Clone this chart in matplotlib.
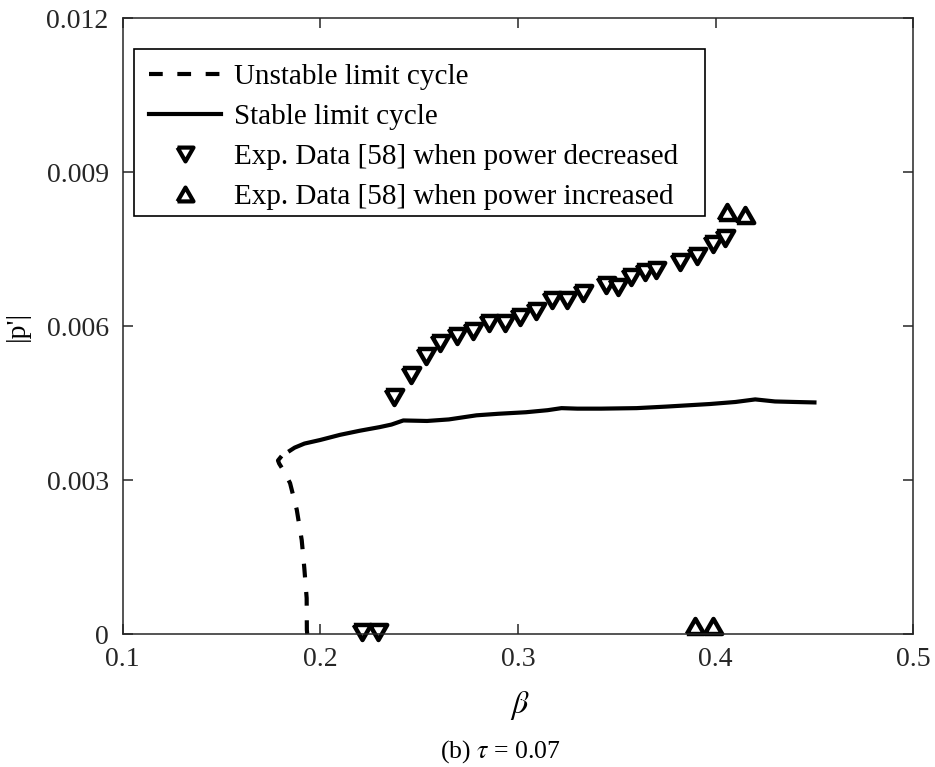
import matplotlib
matplotlib.use("Agg")
import matplotlib.pyplot as plt
from matplotlib.lines import Line2D
from matplotlib.patches import Rectangle

plt.rcParams['font.family'] = ['Liberation Serif', 'DejaVu Serif']
plt.rcParams['mathtext.fontset'] = 'stix'

# Unstable limit cycle branch (dashed)
unstable_beta = [0.1934, 0.1932, 0.1931, 0.1919, 0.1906, 0.1881, 0.1847, 0.1813, 0.1792, 0.1786, 0.1805, 0.1838]
unstable_amp = [0.0, 0.00008, 0.00070, 0.00129, 0.00183, 0.00242, 0.00294, 0.00319, 0.00332, 0.00338, 0.00347, 0.00355]

# Stable limit cycle branch (solid)
stable_beta = [0.1838, 0.187, 0.192, 0.200, 0.210, 0.220, 0.230, 0.236, 0.242, 0.254, 0.265, 0.279,
               0.290, 0.304, 0.315, 0.322, 0.330, 0.342, 0.360, 0.375, 0.397, 0.410, 0.420, 0.430, 0.440, 0.451]
stable_amp = [0.00355, 0.00363, 0.00371, 0.00378, 0.00388, 0.00396, 0.00403, 0.00408, 0.00416, 0.00415, 0.00418, 0.00426,
              0.00429, 0.00432, 0.00436, 0.00440, 0.00439, 0.00439, 0.00440, 0.00443, 0.00448, 0.00452, 0.00457, 0.00453, 0.00452, 0.00451]

# Experimental data, power decreased
dec_beta = [0.2212, 0.2293, 0.2375, 0.2459, 0.2535, 0.2606, 0.2692, 0.2772, 0.2853, 0.2934, 0.3010, 0.3091,
            0.3172, 0.3248, 0.3329, 0.3445, 0.3506, 0.3572, 0.3643, 0.3698, 0.3820, 0.3906, 0.3987, 0.4048]
dec_amp = [0.00003, 0.00003, 0.00462, 0.00505, 0.00542, 0.00567, 0.00581, 0.00590, 0.00606, 0.00606, 0.00618, 0.00629,
           0.00651, 0.00651, 0.00664, 0.00680, 0.00676, 0.00695, 0.00705, 0.00709, 0.00725, 0.00736, 0.00760, 0.00772]

# Experimental data, power increased
inc_beta = [0.3895, 0.3986, 0.4058, 0.4149]
inc_amp = [0.00015, 0.00015, 0.00823, 0.00816]

x_ticks = [0.1, 0.2, 0.3, 0.4, 0.5]
x_ticklabels = ['0.1', '0.2', '0.3', '0.4', '0.5']
y_ticks = [0, 0.003, 0.006, 0.009, 0.012]
y_ticklabels = ['0', '0.003', '0.006', '0.009', '0.012']

legend_labels = ['Unstable limit cycle', 'Stable limit cycle',
                 'Exp. Data [58] when power decreased', 'Exp. Data [58] when power increased']

down_tri = [(-1, 0.866), (1, 0.866), (0, -0.866), (-1, 0.866)]
up_tri = [(-1, -0.866), (1, -0.866), (0, 0.866), (-1, -0.866)]

W, H = 935, 767
fig = plt.figure(figsize=(W / 100, H / 100), dpi=100)
ax = fig.add_axes([122.6 / W, 1 - 634 / H, (913.4 - 122.6) / W, (634 - 18) / H])

ax.plot(unstable_beta, unstable_amp, color='black', lw=3, linestyle=(0, (3.3, 3.5)),
        dash_capstyle='butt', clip_on=False)
ax.plot(stable_beta, stable_amp, color='black', lw=3, solid_capstyle='butt', clip_on=False)
mk = dict(linestyle='none', markersize=12.5, markerfacecolor='white', markeredgecolor='black',
          markeredgewidth=3.2)
ax.plot(dec_beta, dec_amp, marker=down_tri, clip_on=False, **mk)
ax.plot(inc_beta, inc_amp, marker=up_tri, clip_on=False, **mk)

ax.set_xlim(0.1, 0.5)
ax.set_ylim(0, 0.012)
ax.set_xticks(x_ticks)
ax.set_xticklabels(x_ticklabels)
ax.set_yticks(y_ticks)
ax.set_yticklabels(y_ticklabels)
ax.tick_params(direction='in', length=7, width=1.1, top=True, right=True,
               labelsize=20, color='#262626', labelcolor='#262626')
ax.tick_params(axis='x', pad=9)
ax.tick_params(axis='y', pad=10)
for s in ax.spines.values():
    s.set_linewidth(1.1)
    s.set_color('#262626')

# legend frame (MATLAB-style, with extra right padding)
frame = Rectangle((134 / W, 1 - 216 / H), (705 - 134) / W, (216 - 49) / H,
                  transform=fig.transFigure, facecolor='white', edgecolor='black',
                  linewidth=1.2, zorder=4)
fig.add_artist(frame)

leg_mk = dict(mk, markersize=11.5, markeredgewidth=3.0)
handles = [
    Line2D([], [], color='black', lw=3, linestyle=(0, (3.3, 3.5))),
    Line2D([], [], color='black', lw=3),
    Line2D([], [], marker=down_tri, **leg_mk),
    Line2D([], [], marker=up_tri, **leg_mk),
]
leg = fig.legend(handles, legend_labels, loc='upper left',
                 bbox_to_anchor=(138 / W, 1 - 53 / H), bbox_transform=fig.transFigure,
                 borderaxespad=0, fontsize=21, frameon=False,
                 handlelength=2.48, handletextpad=0.43,
                 labelspacing=0.46, borderpad=0.38)
leg.set_zorder(5)

fig.text(520 / W, 1 - 705 / H, r'$\beta$', ha='center', va='center', fontsize=23)
fig.text(17 / W, 1 - 326 / H, "|p'|", ha='center', va='center', rotation=90, fontsize=20)
fig.text(500 / W, 1 - 752 / H, r'(b) $\tau$ = 0.07', ha='center', va='center', fontsize=18.5)

fig.savefig('out.png', dpi=100)
